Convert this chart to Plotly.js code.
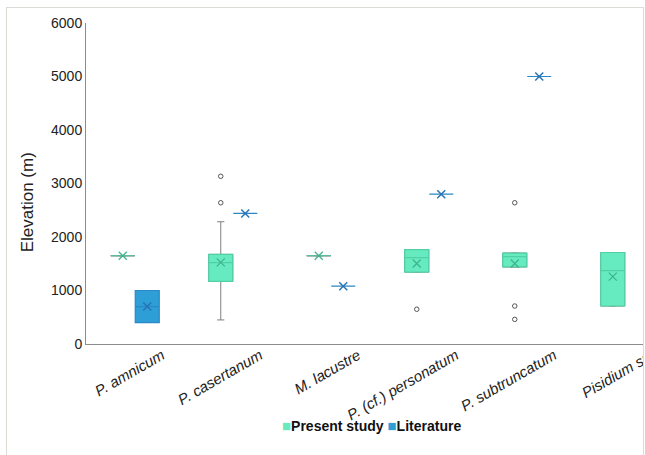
<!DOCTYPE html>
<html>
<head>
<meta charset="utf-8">
<script src="https://cdn.plot.ly/plotly-3.0.1.min.js"></script>
<style>
  html, body { margin:0; padding:0; background:#fff; }
  #wrap { position:relative; width:645px; height:455px; overflow:hidden; background:#fff; }
  #clip { position:absolute; left:0; top:0; width:643px; height:455px; overflow:hidden; }
  #chart { position:absolute; left:0; top:0; }
  #frame { position:absolute; left:6px; top:7px; width:636px; height:460px; border:1px solid #dcdcd6; pointer-events:none; }
</style>
</head>
<body>
<div id="wrap">
  <div id="clip"><div id="chart"></div></div>
  <div id="frame"></div>
</div>
<script>
// ---- data ----
const categories = ['P. amnicum', 'P. casertanum', 'M. lacustre', 'P. (cf.) personatum', 'P. subtruncatum', 'Pisidium sp.'];

// Present study (box statistics per category)
const presentQ1     = [1650, 1170, 1650, 1345, 1440,  710];
const presentMedian = [1650, 1520, 1650, 1615, 1635, 1370];
const presentQ3     = [1650, 1675, 1650, 1765, 1700, 1710];
const presentLow    = [1650,  450, 1650, 1345, 1440,  710];
const presentHigh   = [1650, 2285, 1650, 1765, 1700, 1710];
const presentMean   = [1650, 1525, 1650, 1505, 1505, 1260];

// Present study outliers
const outlierCategory = ['P. casertanum', 'P. casertanum', 'P. (cf.) personatum', 'P. subtruncatum', 'P. subtruncatum', 'P. subtruncatum'];
const outlierValue    = [3135, 2640, 650, 2640, 710, 460];

// Literature (box statistics per category)
const litCategories = ['P. amnicum', 'P. casertanum', 'M. lacustre', 'P. (cf.) personatum', 'P. subtruncatum'];
const litQ1     = [ 400, 2440, 1080, 2800, 5000];
const litMedian = [ 700, 2440, 1080, 2800, 5000];
const litQ3     = [1000, 2440, 1080, 2800, 5000];
const litMean   = [ 700, 2440, 1080, 2800, 5000];

const seriesNames = ['Present study', 'Literature'];
const yTicks = [0, 1000, 2000, 3000, 4000, 5000, 6000];

// ---- positions (category index +/- group offset) ----
const OFF = 0.125, BW = 0.245;
const idx = c => categories.indexOf(c);
const xPresent = categories.map((c) => idx(c) - OFF);
const xLit = litCategories.map((c) => idx(c) + OFF);
const xOut = outlierCategory.map((c) => idx(c) - OFF);

const teal = '#66EBC0', tealLine = '#52CFA3', tealMean = '#3FB38A';
const blue = '#2E9ED6', blueLine = '#2B88C6', blueMean = '#2874B4';

const traces = [
  // gray whiskers underneath
  { type:'box', x:xPresent, q1:presentQ1, median:presentMedian, q3:presentQ3,
    lowerfence:presentLow, upperfence:presentHigh, width:BW, whiskerwidth:0.3,
    boxpoints:false, fillcolor:'rgba(0,0,0,0)', line:{color:'#7f7f7f', width:1},
    showlegend:false, hoverinfo:'skip' },
  // present study boxes
  { type:'box', name:seriesNames[0], x:xPresent, q1:presentQ1, median:presentMedian, q3:presentQ3,
    lowerfence:presentQ1, upperfence:presentQ3, width:BW, whiskerwidth:0,
    boxpoints:false, fillcolor:teal, line:{color:tealLine, width:1.2}, showlegend:false },
  // literature boxes
  { type:'box', name:seriesNames[1], x:xLit, q1:litQ1, median:litMedian, q3:litQ3,
    lowerfence:litQ1, upperfence:litQ3, width:BW, whiskerwidth:0,
    boxpoints:false, fillcolor:blue, line:{color:blueLine, width:1.2}, showlegend:false },
  // means
  { type:'scatter', mode:'markers', x:xPresent, y:presentMean, showlegend:false,
    marker:{symbol:'x-thin', size:8, line:{color:tealMean, width:1.3}} },
  { type:'scatter', mode:'markers', x:xLit, y:litMean, showlegend:false,
    marker:{symbol:'x-thin', size:8, line:{color:blueMean, width:1.5}} },
  // outliers
  { type:'scatter', mode:'markers', x:xOut, y:outlierValue, showlegend:false,
    marker:{symbol:'circle-open', size:4.5, color:'#555', line:{color:'#555', width:1}} }
];

const legendText =
  '<span style="color:' + teal + ';font-size:15px">■</span><b>' + seriesNames[0] + '</b> ' +
  '<span style="color:' + blue + ';font-size:15px">■</span><b>' + seriesNames[1] + '</b>';

const layout = {
  width:680, height:455,
  margin:{l:86, r:6, t:23, b:111},
  paper_bgcolor:'rgba(0,0,0,0)', plot_bgcolor:'rgba(0,0,0,0)',
  font:{family:'Liberation Sans, Arial, sans-serif', color:'#333', size:14},
  showlegend:false,
  xaxis:{range:[-0.5, 5.5], tickvals:categories.map((c,i)=>i), ticktext:categories,
         tickangle:-30, ticks:'', showgrid:false, zeroline:false,
         showline:true, linecolor:'#8c8c8c', linewidth:1,
         ticklabelshift:27, ticklabelstandoff:-4,
         tickfont:{size:15, style:'italic', color:'#222'}},
  yaxis:{range:[0, 6000], tickvals:yTicks, ticks:'', showgrid:false, zeroline:false,
         showline:true, linecolor:'#8c8c8c', linewidth:1,
         tickfont:{size:14, color:'#222'}},
  annotations:[
    {text:'Elevation (m)', xref:'paper', yref:'paper', x:-0.1, y:0.442,
     xanchor:'center', yanchor:'middle', textangle:-90, showarrow:false,
     font:{size:17, color:'#222'}},
    {text:legendText, xref:'paper', yref:'paper', x:0.4847, y:-0.255,
     xanchor:'center', yanchor:'middle', showarrow:false,
     font:{size:14, color:'#111'}}
  ]
};

Plotly.newPlot('chart', traces, layout, {displayModeBar:false, staticPlot:true});
</script>
</body>
</html>
